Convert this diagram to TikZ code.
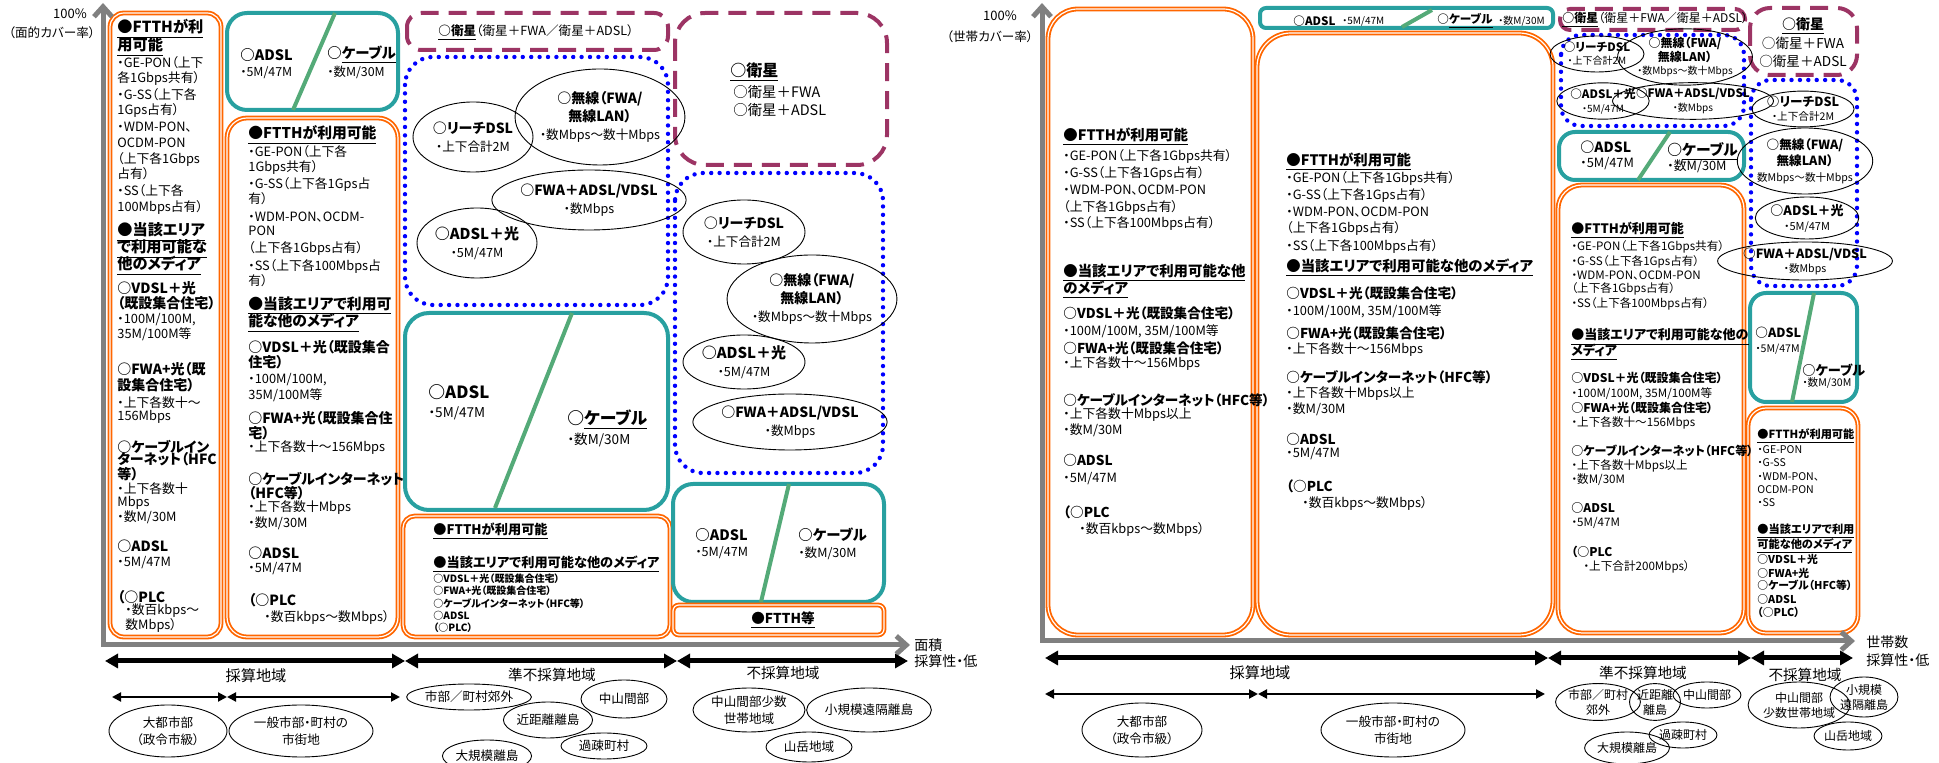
\documentclass[tikz,border=0pt]{standalone}
\usepackage{fontspec}
\setmainfont{Noto Sans CJK JP}[RawFeature=+palt]
\usetikzlibrary{shapes.geometric,arrows.meta}
\definecolor{orgC}{RGB}{255,102,0}
\definecolor{tealC}{RGB}{40,160,160}
\definecolor{grnC}{RGB}{84,170,120}
\definecolor{magC}{RGB}{156,52,100}
\definecolor{bluC}{RGB}{0,0,255}
\definecolor{axC}{RGB}{128,128,128}
\newcommand\fs[2]{\fontsize{#1}{#2}\selectfont}
\newcommand\hB[2][7.2]{{\fs{#1}{#1}\bfseries\underline{#2}}}
\newcommand\sB[2][6.8]{{\fs{#1}{#1}\bfseries #2}}
\tikzset{
  obox/.style={draw=orgC, double=white, line width=0.9pt, double distance=0.6pt, rounded corners=#1},
  obox/.default=9pt,
  tbox/.style={draw=tealC, line width=2pt, rounded corners=#1},
  tbox/.default=7pt,
  mbox/.style={draw=magC, line width=2pt, dash pattern=on 9pt off 5pt, rounded corners=#1},
  mbox/.default=10pt,
  dbox/.style={draw=bluC, line width=2.2pt, dash pattern=on 0pt off 4.2pt, line cap=round, rounded corners=#1},
  dbox/.default=11pt,
  gline/.style={draw=grnC, line width=2pt},
  ell/.style 2 args={ellipse, draw, line width=0.45pt, inner sep=0pt, align=center, minimum width=#1pt, minimum height=#2pt},
  tl/.style={anchor=west, inner sep=0pt},
  lbl/.style={inner sep=0pt, align=center},
  axis/.style={draw=axC, line width=2.5pt, -{Straight Barb[length=5pt,width=9pt]}},
  bigarr/.style={line width=2.5pt, {Triangle[length=6.5pt,width=7pt]}-{Triangle[length=6.5pt,width=7pt]}},
  smarr/.style={line width=1pt, {Triangle[length=4.5pt,width=4.5pt]}-{Triangle[length=4.5pt,width=4.5pt]}},
}
\begin{document}
\begin{tikzpicture}[x=0.5pt,y=-0.5pt]
\useasboundingbox (0,0) rectangle (1939,763);

% ================= LEFT DIAGRAM =================
\draw[obox=7pt] (110,13) rectangle (221,637);
\draw[tbox=10pt] (227,13) rectangle (398,110);
\draw[gline] (335,13) -- (293,110);
\draw[obox=10pt] (227,118) rectangle (398,637);
\draw[mbox=7pt] (407,13) rectangle (668,50);
\draw[dbox=14pt] (405,57) rectangle (668,305);
\draw[tbox=12pt] (405,313) rectangle (668,510);
\draw[gline] (572,313) -- (495,508);
\draw[obox=6pt] (403,516) rectangle (670,637);
\draw[mbox=15pt] (675,13) rectangle (887,165);
\draw[dbox=14pt] (675,173) rectangle (883,473);
\draw[tbox=10pt] (673,484) rectangle (884,602);
\draw[gline] (789,484) -- (761,602);
\draw[obox=3pt] (673,605) rectangle (884,635);

\coordinate (lax0) at (103,645);
\coordinate (laxT) at (103,3);
\coordinate (laxR) at (910,645);
\draw[axis] (lax0) -- (laxT);
\draw[axis] (101,645) -- (laxR);
\node[lbl, font=\fs{6.5}{7}] (l100) at (70,14) {100\%};
\node[lbl, font=\fs{6.3}{7}] (lcov) at (52,33) {（面的カバー率）};
\node[tl, font=\fs{7}{8}] (lmen) at (914,645) {面積};
\node[tl, font=\fs{7}{8}] (lsai) at (914,661) {採算性・低};

\foreach \yy/\tx [count=\i] in {
29/{\hB[7.6]{●FTTHが利}},
47/{\hB[7.6]{用可能}},
63/{・GE-PON（上下},
78/{各1Gbps共有）},
95/{・G-SS（上下各},
110/{1Gps占有）},
127/{・WDM-PON、},
143/{OCDM-PON},
159/{（上下各1Gbps},
174/{占有）},
191/{・SS（上下各},
207/{100Mbps占有）},
232/{\hB[7.6]{●当該エリア}},
249/{\hB[7.6]{で利用可能な}},
266/{\hB[7.6]{他のメディア}},
288/{\sB[7]{○VDSL＋光}},
303/{\sB[7]{（既設集合住宅）}},
320/{・100M/100M,},
334/{35M/100M等},
369/{\sB[7]{○FWA+光（既}},
385/{\sB[7]{設集合住宅）}},
403/{・上下各数十～},
417/{156Mbps},
447/{\sB[7]{○ケーブルイン}},
459/{\sB[7]{ターネット（HFC}},
474/{\sB[7]{等）}},
489/{・上下各数十},
503/{Mbps},
517/{・数M/30M},
546/{\sB[7]{○ADSL}},
563/{・5M/47M},
597/{\sB[7]{（○PLC}},
611/{\hspace{4pt}・数百kbps～},
625/{\hspace{4pt}数Mbps）}}
  \node[tl, font=\fs{6.4}{7}] (la\i) at (117,\yy) {\tx};

\node[tl, font=\fs{7.2}{8}] (l2a) at (240,55) {\textbf{○ADSL}};
\node[tl, font=\fs{6.2}{7}] (l2b) at (240,73) {・5M/47M};
\node[tl, font=\fs{7.2}{8}] (l2c) at (327,55) {\textbf{○\underline{ケーブル}}};
\node[tl, font=\fs{6.2}{7}] (l2d) at (327,72) {・数M/30M};

\foreach \yy/\tx [count=\i] in {
135/{\hB[7.4]{●FTTHが利用可能}},
152/{・GE-PON（上下各},
167/{1Gbps共有）},
184/{・G-SS（上下各1Gps占},
199/{有）},
217/{・WDM-PON、OCDM-},
231/{PON},
248/{（上下各1Gbps占有）},
266/{・SS（上下各100Mbps占},
281/{有）},
306/{\hB[7.4]{●当該エリアで利用可}},
323/{\hB[7.4]{能な他のメディア}},
347/{\sB[7]{○VDSL＋光（既設集合}},
362/{\sB[7]{住宅）}},
380/{・100M/100M,},
395/{35M/100M等},
418/{\sB[7]{○FWA+光（既設集合住}},
433/{\sB[7]{宅）}},
448/{・上下各数十～156Mbps},
479/{\sB[7]{○ケーブルインターネット}},
493/{\sB[7]{（HFC等）}},
508/{・上下各数十Mbps},
523/{・数M/30M},
553/{\sB[7]{○ADSL}},
569/{・5M/47M},
600/{\sB[7]{（○PLC}},
617/{\hspace{8pt}・数百kbps～数Mbps）}}
  \node[tl, font=\fs{6.4}{7}] (lb\i) at (248,\yy) {\tx};

\node[lbl, font=\fs{6.3}{7}] (l3sat) at (536,33) {\textbf{\underline{○衛星}}（衛星＋FWA／衛星＋ADSL）};
\node[ell={60}{35}, font=\fs{7}{9}] (l3e1) at (473,137) {\textbf{○リーチDSL}\\{\fs{6.3}{8}・上下合計2M}};
\node[ell={65}{48}, font=\fs{7}{9}] (l3e2) at (600,117) {\textbf{○無線（FWA/}\\\textbf{無線LAN）}\\{\fs{6.3}{8}・数Mbps～数十Mbps}};
\node[ell={71}{30}, font=\fs{7}{9}] (l3e3) at (589,200) {\textbf{○FWA＋ADSL/VDSL}\\{\fs{6.3}{8}・数Mbps}};
\node[ell={60}{35}, font=\fs{7.5}{9}] (l3e4) at (477,243) {\textbf{○ADSL＋光}\\{\fs{6.3}{8}・5M/47M}};
\node[tl, font=\fs{8.4}{9}] (l3a) at (428,392) {\textbf{○ADSL}};
\node[tl, font=\fs{6.8}{8}] (l3b) at (428,413) {・5M/47M};
\node[tl, font=\fs{8.4}{9}] (l3c) at (567,420) {\textbf{○\underline{ケーブル}}};
\node[tl, font=\fs{6.8}{8}] (l3d) at (567,440) {・数M/30M};
\node[tl] (l3f) at (433,531) {\hB[6.6]{●FTTHが利用可能}};
\node[tl] (l3g) at (433,564) {\hB[6.6]{●当該エリアで利用可能な他のメディア}};
\foreach \yy/\tx [count=\i] in {
579/{○VDSL＋光（既設集合住宅）},
591/{○FWA+光（既設集合住宅）},
604/{○ケーブルインターネット（HFC等）},
616/{○ADSL},
628/{（○PLC）}}
  \node[tl, font=\fs{5}{6}\bfseries] (lc\i) at (433,\yy) {\tx};

\node[tl, font=\fs{8}{9}] (l4s1) at (730,72) {\textbf{\underline{○衛星}}};
\node[tl, font=\fs{7.2}{8}] (l4s2) at (733,92) {○衛星＋FWA};
\node[tl, font=\fs{7.2}{8}] (l4s3) at (733,110) {○衛星＋ADSL};
\node[ell={61}{32}, font=\fs{7}{9}] (l4e1) at (744,232) {\textbf{○リーチDSL}\\{\fs{6.3}{8}・上下合計2M}};
\node[ell={65}{44}, font=\fs{7}{9}] (l4e2) at (812,299) {\textbf{○無線（FWA/}\\\textbf{無線LAN）}\\{\fs{6.3}{8}・数Mbps～数十Mbps}};
\node[ell={61}{27}, font=\fs{7.5}{9}] (l4e3) at (744,362) {\textbf{○ADSL＋光}\\{\fs{6.3}{8}・5M/47M}};
\node[ell={72}{28}, font=\fs{7}{9}] (l4e4) at (790,422) {\textbf{○FWA＋ADSL/VDSL}\\{\fs{6.3}{8}・数Mbps}};
\node[tl, font=\fs{7.2}{8}] (l4a) at (695,535) {\textbf{○ADSL}};
\node[tl, font=\fs{6.3}{7}] (l4b) at (695,553) {・5M/47M};
\node[tl, font=\fs{7.2}{8}] (l4c) at (798,535) {\textbf{○ケーブル}};
\node[tl, font=\fs{6.3}{7}] (l4d) at (798,553) {・数M/30M};
\node[lbl] (l4f) at (783,620) {\hB[6.8]{●FTTH等}};

\coordinate (la1) at (105,661); \coordinate (la2) at (405,661);
\coordinate (la3) at (677,661); \coordinate (la4) at (908,661);
\draw[bigarr] (la1) -- (la2);
\draw[bigarr] (la2) -- (la3);
\draw[bigarr] (la3) -- (la4);
\coordinate (ls1) at (112,697); \coordinate (ls2) at (227,697); \coordinate (ls3) at (400,697);
\draw[smarr] (ls1) -- (ls2);
\draw[smarr] (ls2) -- (ls3);
\node[lbl, font=\fs{7.6}{8}] (lr1) at (256,676) {採算地域};
\node[lbl, font=\fs{7.3}{8}] (lr2) at (552,675) {準不採算地域};
\node[lbl, font=\fs{7.3}{8}] (lr3) at (783,673) {不採算地域};

\node[ell={59}{26}, font=\fs{6.3}{8.5}] (le1) at (168,731) {大都市部\\（政令市級）};
\node[ell={72}{26}, font=\fs{6.3}{8.5}] (le2) at (301,731) {一般市部・町村の\\市街地};
\node[ell={52}{13}, font=\fs{6.3}{8}] (le3) at (469,697) {市部／町村郊外};
\node[ell={43}{19}, font=\fs{6.3}{8}] (le4) at (624,699) {中山間部};
\node[ell={43}{18}, font=\fs{6.3}{8}] (le5) at (548,720) {近距離離島};
\node[ell={43}{16}, font=\fs{6.3}{8}] (le6) at (487,756) {大規模離島};
\node[ell={43}{13}, font=\fs{6.3}{8}] (le7) at (604,746) {過疎町村};
\node[ell={56}{22}, font=\fs{6.3}{8.5}] (le8) at (749,710) {中山間部少数\\世帯地域};
\node[ell={56}{22}, font=\fs{6.3}{8}] (le9) at (869,710) {小規模遠隔離島};
\node[ell={43}{15}, font=\fs{6.3}{8}] (le10) at (809,747) {山岳地域};

% ================= RIGHT DIAGRAM =================
\draw[obox=15pt] (1048,9) rectangle (1253,635);
\draw[tbox=3pt] (1260,8) rectangle (1553,28);
\draw[gline] (1402,27) -- (1432,10);
\draw[obox=17pt] (1257,33) rectangle (1553,635);
\draw[mbox=5pt] (1560,9) rectangle (1745,30);
\draw[dbox=10pt] (1561,35) rectangle (1744,126);
\draw[tbox=8pt] (1559,132) rectangle (1744,180);
\draw[gline] (1670,132) -- (1638,180);
\draw[obox=12pt] (1558,185) rectangle (1744,633);
\draw[mbox=10pt] (1750,8) rectangle (1857,75);
\draw[dbox=10pt] (1751,80) rectangle (1857,286);
\draw[tbox=8pt] (1750,293) rectangle (1857,402);
\draw[gline] (1814,293) -- (1792,402);
\draw[obox=9pt] (1748,408) rectangle (1858,633);

\coordinate (rax0) at (1042,643);
\coordinate (raxT) at (1042,3);
\coordinate (raxR) at (1855,641);
\draw[axis] (rax0) -- (raxT);
\draw[axis] (1040,641) -- (raxR);
\node[lbl, font=\fs{6.5}{7}] (r100) at (1000,16) {100\%};
\node[lbl, font=\fs{6.3}{7}] (rcov) at (990,37) {（世帯カバー率）};
\node[tl, font=\fs{7}{8}] (rset) at (1866,642) {世帯数};
\node[tl, font=\fs{7}{8}] (rsai) at (1866,660) {採算性・低};

\foreach \yy/\tx [count=\i] in {
137/{\hB[7.2]{●FTTHが利用可能}},
156/{・GE-PON（上下各1Gbps共有）},
173/{・G-SS（上下各1Gps占有）},
190/{・WDM-PON、OCDM-PON},
207/{（上下各1Gbps占有）},
223/{・SS（上下各100Mbps占有）},
273/{\hB[7.2]{●当該エリアで利用可能な他}},
290/{\hB[7.2]{のメディア}},
313/{\sB[6.8]{○VDSL＋光（既設集合住宅）}},
331/{・100M/100M,\ 35M/100M等},
348/{\sB[6.8]{○FWA+光（既設集合住宅）}},
364/{・上下各数十～156Mbps},
400/{\sB[6.8]{○ケーブルインターネット（HFC等）}},
415/{・上下各数十Mbps以上},
430/{・数M/30M},
460/{\sB[6.8]{○ADSL}},
479/{・5M/47M},
512/{\sB[6.8]{（○PLC}},
529/{\hspace{8pt}・数百kbps～数Mbps）}}
  \node[tl, font=\fs{6.4}{7}] (ra\i) at (1063,\yy) {\tx};

\node[tl, font=\fs{5.8}{6}] (r2a) at (1293,21) {\textbf{○ADSL}};
\node[tl, font=\fs{5}{6}] (r2b) at (1342,21) {・5M/47M};
\node[tl, font=\fs{5.8}{6}] (r2c) at (1437,21) {\textbf{○\underline{ケーブル}}};
\node[tl, font=\fs{5}{6}] (r2d) at (1498,21) {・数M/30M};
\foreach \yy/\tx [count=\i] in {
162/{\hB[7.2]{●FTTHが利用可能}},
178/{・GE-PON（上下各1Gbps共有）},
195/{・G-SS（上下各1Gps占有）},
212/{・WDM-PON、OCDM-PON},
228/{（上下各1Gbps占有）},
246/{・SS（上下各100Mbps占有）},
268/{\hB[7.2]{●当該エリアで利用可能な他のメディア}},
293/{\sB[6.8]{○VDSL＋光（既設集合住宅）}},
311/{・100M/100M,\ 35M/100M等},
333/{\sB[6.8]{○FWA+光（既設集合住宅）}},
350/{・上下各数十～156Mbps},
377/{\sB[6.8]{○ケーブルインターネット（HFC等）}},
394/{・上下各数十Mbps以上},
409/{・数M/30M},
439/{\sB[6.8]{○ADSL}},
454/{・5M/47M},
486/{\sB[6.8]{（○PLC}},
503/{\hspace{8pt}・数百kbps～数Mbps）}}
  \node[tl, font=\fs{6.4}{7}] (rb\i) at (1286,\yy) {\tx};

\node[tl, font=\fs{6}{7}] (r3sat) at (1562,20) {\textbf{\underline{○衛星}}（衛星＋FWA／衛星＋ADSL）};
\node[ell={33}{18}, font=\fs{5.8}{6.5}] (r3e1) at (1597,54) {\textbf{○リーチDSL}\\{\fs{5}{6}・上下合計2M}};
\node[ell={53}{21}, font=\fs{6}{6.8}] (r3e2) at (1685,57) {\textbf{○無線（FWA/}\\\textbf{無線LAN）}\\{\fs{5}{6}・数Mbps～数十Mbps}};
\node[ell={36}{18}, font=\fs{5.8}{7}] (r3e3) at (1603,101) {\textbf{○ADSL＋光}\\{\fs{5}{6}・5M/47M}};
\node[ell={52}{18}, font=\fs{5.8}{7}] (r3e4) at (1693,101) {\textbf{○FWA＋ADSL/VDSL}\\{\fs{5}{6}・数Mbps}};
\node[tl, font=\fs{7}{8}] (r3a) at (1580,147) {\textbf{○ADSL}};
\node[tl, font=\fs{6.4}{7}] (r3b) at (1580,164) {・5M/47M};
\node[tl, font=\fs{7.4}{8}] (r3c) at (1667,152) {\textbf{○\underline{ケーブル}}};
\node[tl, font=\fs{6.4}{7}] (r3d) at (1667,166) {・数M/30M};
\foreach \yy/\tx [count=\i] in {
230/{\hB[6.5]{●FTTHが利用可能}},
247/{・GE-PON（上下各1Gbps共有）},
262/{・G-SS（上下各1Gps占有）},
276/{・WDM-PON、OCDM-PON},
289/{（上下各1Gbps占有）},
304/{・SS（上下各100Mbps占有）},
337/{\hB[6.5]{●当該エリアで利用可能な他の}},
352/{\hB[6.5]{メディア}},
378/{\sB[6]{○VDSL＋光（既設集合住宅）}},
394/{・100M/100M,\ 35M/100M等},
408/{\sB[6]{○FWA+光（既設集合住宅）}},
423/{・上下各数十～156Mbps},
451/{\sB[6]{○ケーブルインターネット（HFC等）}},
466/{・上下各数十Mbps以上},
480/{・数M/30M},
508/{\sB[6]{○ADSL}},
523/{・5M/47M},
552/{\sB[6]{（○PLC}},
567/{\hspace{6pt}・上下合計200Mbps）}}
  \node[tl, font=\fs{5.8}{6.5}] (rc\i) at (1571,\yy) {\tx};

\node[lbl, font=\fs{7}{8}] (r4s1) at (1803,26) {\textbf{\underline{○衛星}}};
\node[lbl, font=\fs{6.8}{8}] (r4s2) at (1803,43) {○衛星＋FWA};
\node[lbl, font=\fs{6.8}{8}] (r4s3) at (1803,61) {○衛星＋ADSL};
\node[ell={36}{17}, font=\fs{6.3}{7}] (r4e1) at (1803,109) {\textbf{○リーチDSL}\\{\fs{5.3}{6}・上下合計2M}};
\node[ell={49}{33}, font=\fs{6.3}{8}] (r4e2) at (1805,161) {\textbf{○無線（FWA/}\\\textbf{無線LAN）}\\{\fs{5.3}{6}数Mbps～数十Mbps}};
\node[ell={41}{21}, font=\fs{6.5}{7.5}] (r4e3) at (1807,218) {\textbf{○ADSL＋光}\\{\fs{5.5}{6}・5M/47M}};
\node[ell={52}{18}, font=\fs{6.3}{7}] (r4e4) at (1805,261) {\textbf{○FWA＋ADSL/VDSL}\\{\fs{5.3}{6}・数Mbps}};
\node[tl, font=\fs{6.3}{7}] (r4a) at (1755,333) {\textbf{○ADSL}};
\node[tl, font=\fs{5.3}{6}] (r4b) at (1755,349) {・5M/47M};
\node[tl, font=\fs{6.6}{7}] (r4c) at (1802,370) {\textbf{○ケーブル}};
\node[tl, font=\fs{5.3}{6}] (r4d) at (1802,383) {・数M/30M};
\foreach \yy/\tx [count=\i] in {
436/{\hB[5.6]{●FTTHが利用可能}},
450/{・GE-PON},
463/{・G-SS},
477/{・WDM-PON、},
490/{OCDM-PON},
503/{・SS},
531/{\hB[5.6]{●当該エリアで利用}},
546/{\hB[5.6]{可能な他のメディア}},
559/{\sB[5.4]{○VDSL＋光}},
573/{\sB[5.4]{○FWA+光}},
585/{\sB[5.4]{○ケーブル（HFC等）}},
599/{\sB[5.4]{○ADSL}},
612/{\sB[5.4]{（○PLC）}}}
  \node[tl, font=\fs{5.3}{6}] (rd\i) at (1757,\yy) {\tx};

\coordinate (ra1) at (1045,658); \coordinate (ra2) at (1548,658);
\coordinate (ra3) at (1751,658); \coordinate (ra4) at (1853,658);
\draw[bigarr] (ra1) -- (ra2);
\draw[bigarr] (ra2) -- (ra3);
\draw[bigarr] (ra3) -- (ra4);
\coordinate (rs1) at (1045,694); \coordinate (rs2) at (1258,694); \coordinate (rs3) at (1545,694);
\draw[smarr] (rs1) -- (rs2);
\draw[smarr] (rs2) -- (rs3);
\node[lbl, font=\fs{7.6}{8}] (rr1) at (1260,673) {採算地域};
\node[lbl, font=\fs{7.3}{8}] (rr2) at (1643,673) {準不採算地域};
\node[lbl, font=\fs{7.3}{8}] (rr3) at (1805,675) {不採算地域};

\node[ell={60}{27}, font=\fs{6.3}{8.5}] (re1) at (1142,730) {大都市部\\（政令市級）};
\node[ell={72}{27}, font=\fs{6.3}{8.5}] (re2) at (1393,730) {一般市部・町村の\\市街地};
\node[ell={32}{18}, font=\fs{6}{7.5}] (re3) at (1598,702) {市部／町村\\郊外};
\node[ell={22}{18}, font=\fs{6}{7.5}] (re4) at (1655,702) {近距離\\離島};
\node[ell={28}{13}, font=\fs{6}{7}] (re5) at (1707,695) {中山間部};
\node[ell={28}{16}, font=\fs{6}{7}] (re6) at (1627,748) {大規模離島};
\node[ell={28}{13}, font=\fs{6}{7}] (re7) at (1683,735) {過疎町村};
\node[ell={36}{23}, font=\fs{6}{7.5}] (re8) at (1799,705) {中山間部\\少数世帯地域};
\node[ell={28}{20}, font=\fs{6}{7.5}] (re9) at (1864,697) {小規模\\遠隔離島};
\node[ell={28}{14}, font=\fs{6}{7}] (re10) at (1848,736) {山岳地域};
\end{tikzpicture}
\end{document}
